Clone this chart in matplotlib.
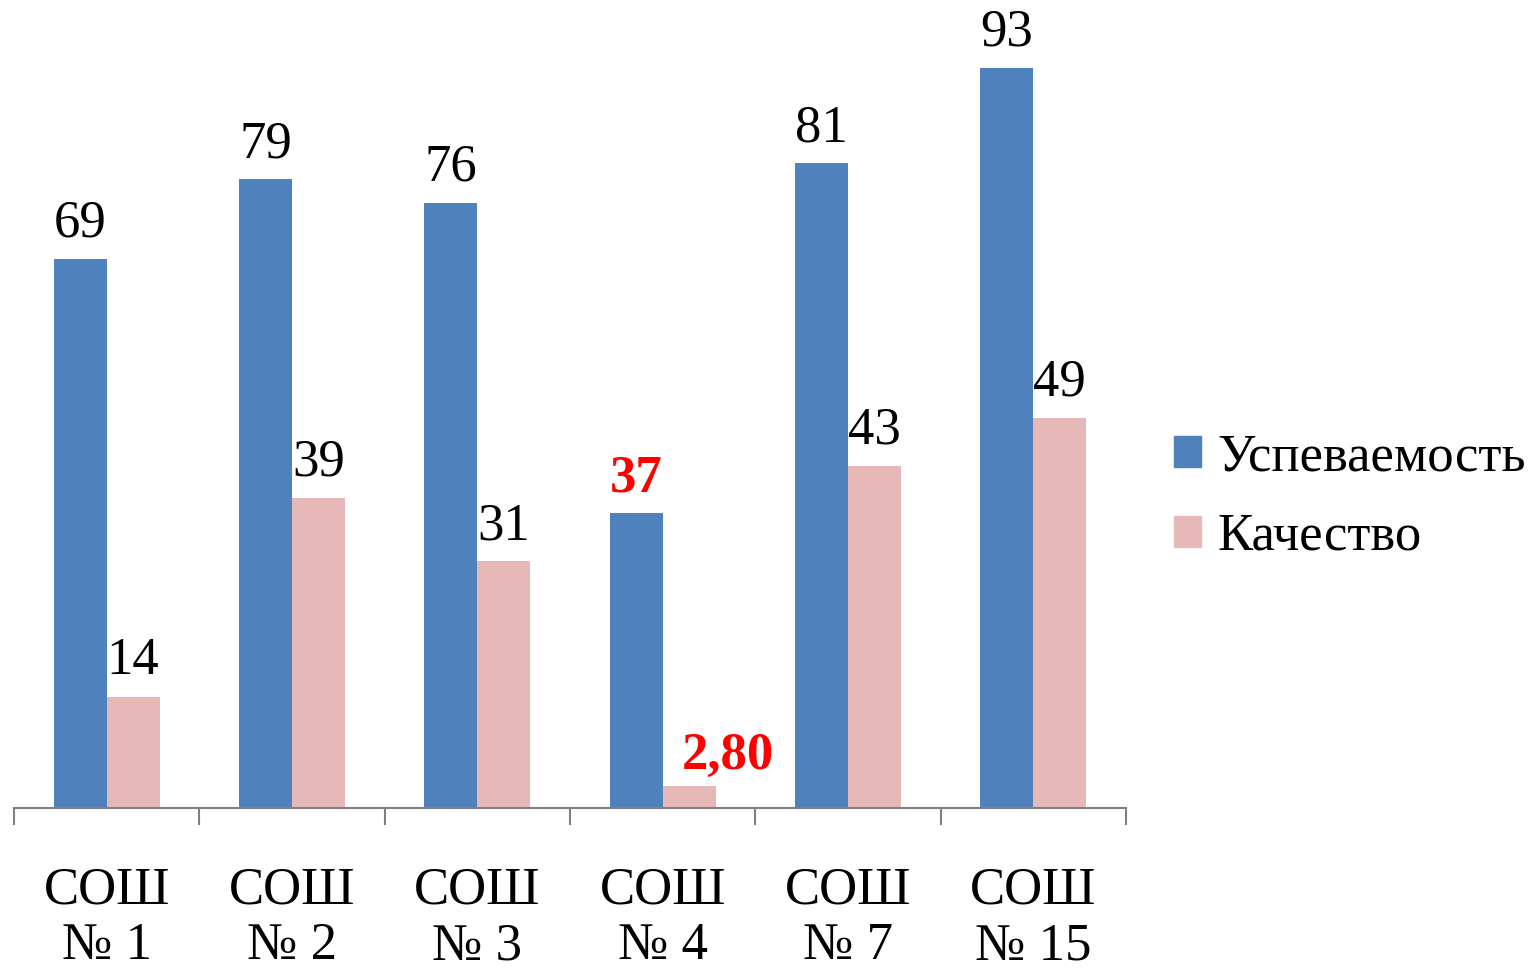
import numpy as np
import matplotlib.pyplot as plt
from matplotlib.patches import Patch

# Data
schools = ['СОШ\n№ 1', 'СОШ\n№ 2', 'СОШ\n№ 3', 'СОШ\n№ 4', 'СОШ\n№ 7', 'СОШ\n№ 15']
uspev = [69, 79, 76, 37, 81, 93]
kachestvo = [14, 39, 31, 2.80, 43, 49]
uspev_labels = ['69', '79', '76', '37', '81', '93']
kach_labels = ['14', '39', '31', '2,80', '43', '49']
highlight = [False, False, False, True, False, False]

blue = '#4F81BD'
pink = '#E6B9B8'

plt.rcParams['font.family'] = ['Liberation Serif', 'DejaVu Serif']

fig = plt.figure(figsize=(15.29, 9.68), dpi=100)
ax = fig.add_axes([14 / 1529, 160 / 968, 1112 / 1529, 796 / 968])

x = np.arange(len(schools))
w = 0.286
ax.bar(x - w / 2, uspev, w, color=blue)
ax.bar(x + w / 2, kachestvo, w, color=pink)

# value labels
for i in range(len(x)):
    if highlight[i]:
        kw = dict(color='red', fontweight='bold')
    else:
        kw = dict(color='black')
    ax.annotate(uspev_labels[i], (x[i] - w / 2, uspev[i]), xytext=(0, 8),
                textcoords='offset points', ha='center', va='bottom',
                fontsize=38, **kw)
    if highlight[i]:
        ax.annotate(kach_labels[i], (x[i] + w / 2, kachestvo[i]), xytext=(28, 4),
                    textcoords='offset points', ha='center', va='bottom',
                    fontsize=38, **kw)
    else:
        ax.annotate(kach_labels[i], (x[i] + w / 2, kachestvo[i]), xytext=(0, 8),
                    textcoords='offset points', ha='center', va='bottom',
                    fontsize=38, **kw)

ax.set_xlim(-0.5, len(schools) - 0.5)
ax.set_ylim(0, 100)
ax.set_yticks([])
for s in ['top', 'right', 'left']:
    ax.spines[s].set_visible(False)
ax.spines['bottom'].set_color('#808080')
ax.spines['bottom'].set_linewidth(1.5)

ax.set_xticks(np.arange(-0.5, len(schools), 1.0))
ax.set_xticklabels([])
ax.tick_params(axis='x', which='major', length=12, width=1.5, color='#808080')
ax.set_xticks(x, minor=True)
ax.set_xticklabels(schools, minor=True, fontsize=38, linespacing=1.22)
ax.tick_params(axis='x', which='minor', length=0, pad=42)

handles = [Patch(color=blue, label='Успеваемость'), Patch(color=pink, label='Качество')]
fig.legend(handles=handles, loc='center left', bbox_to_anchor=(1174 / 1529, 1 - 497 / 968),
           frameon=False, fontsize=38, handlelength=0.52, handleheight=0.52,
           handletextpad=0.3, labelspacing=0.6, borderpad=0, borderaxespad=0)

fig.savefig('out.png', dpi=100)
